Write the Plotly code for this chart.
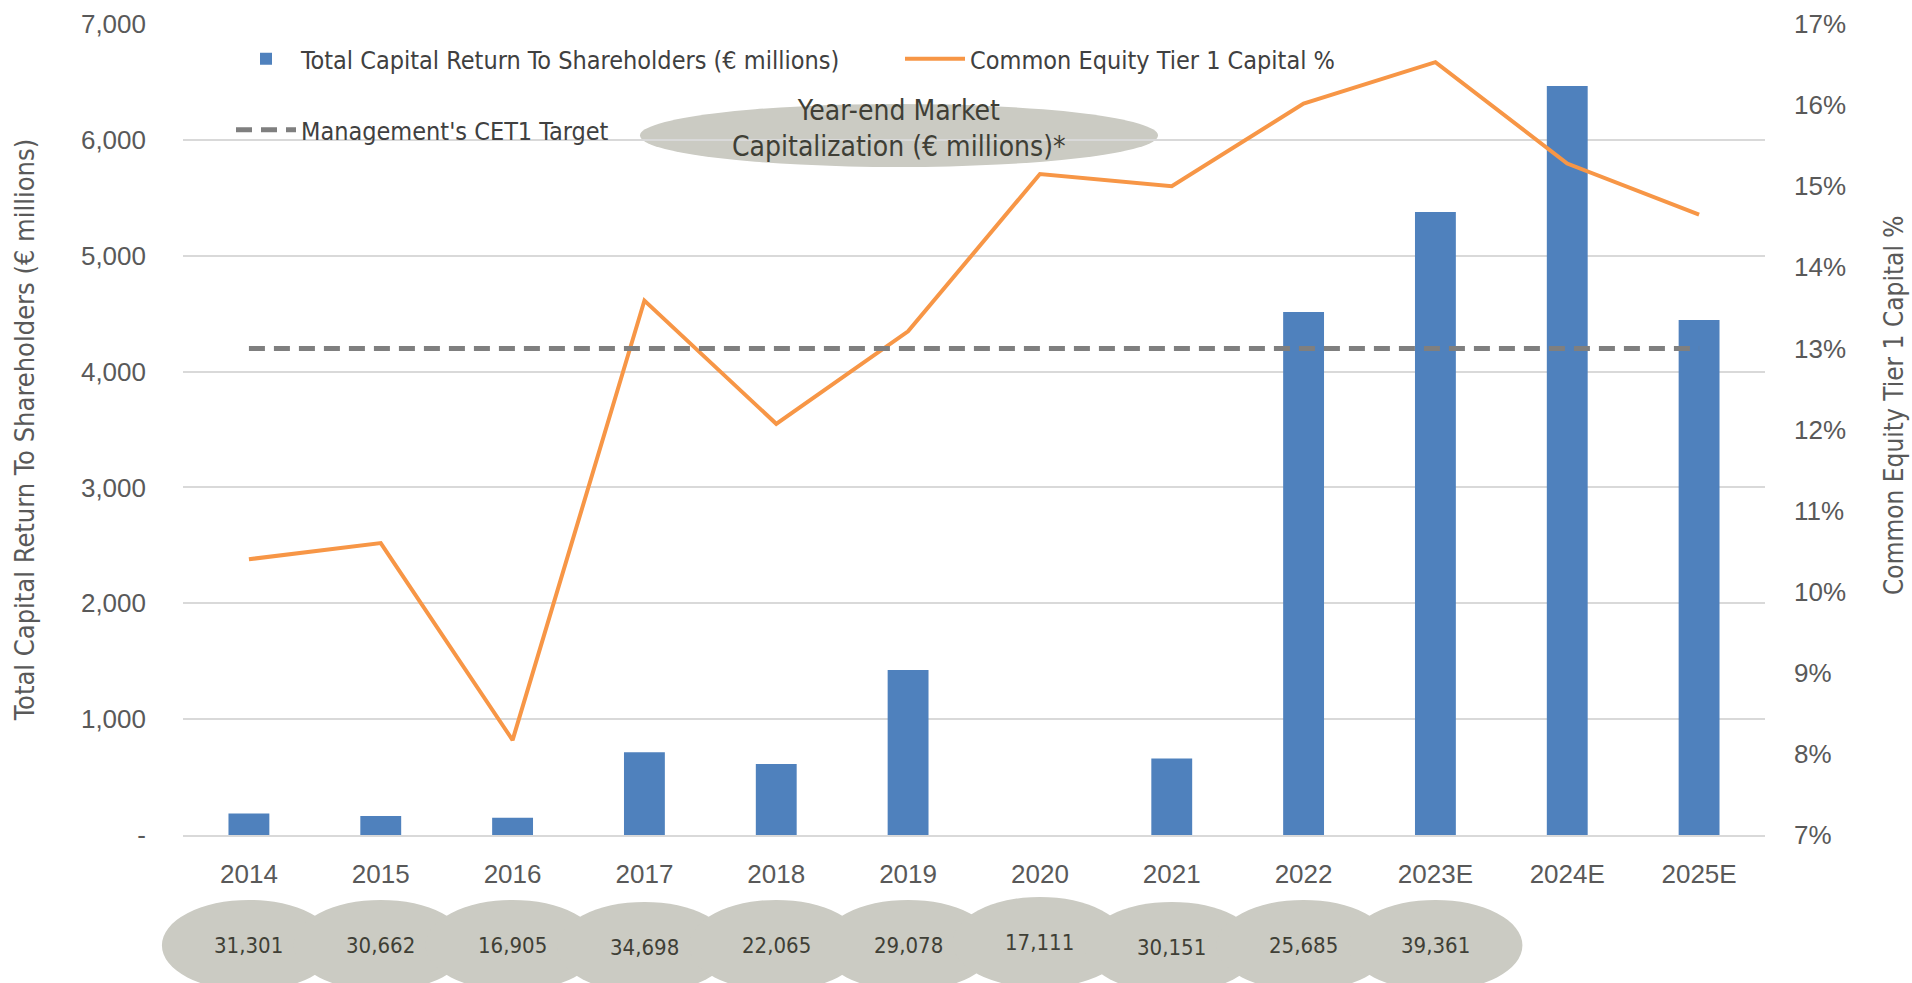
import plotly.graph_objects as go

categories = ["2014", "2015", "2016", "2017", "2018", "2019", "2020", "2021", "2022", "2023E", "2024E", "2025E"]
capital_return = [185, 165, 148, 715, 612, 1425, 0, 660, 4515, 5378, 6465, 4445]
cet1_pct = [10.40, 10.60, 8.17, 13.59, 12.07, 13.21, 15.15, 15.00, 16.02, 16.53, 15.28, 14.65]
cet1_target = [13.0] * 12
market_cap_labels = ["31,301", "30,662", "16,905", "34,698", "22,065", "29,078", "17,111", "30,151", "25,685", "39,361"]
left_ticks = [0, 1000, 2000, 3000, 4000, 5000, 6000, 7000]
left_ticktext = ["-", "1,000", "2,000", "3,000", "4,000", "5,000", "6,000", "7,000"]
right_ticks = [7, 8, 9, 10, 11, 12, 13, 14, 15, 16, 17]
right_ticktext = [f"{v}%" for v in right_ticks]

NARROW = "Liberation Sans Narrow, Arial Narrow, DejaVu Sans Condensed, sans-serif"
TICKFONT = "Liberation Sans, Arial, sans-serif"
GRAY_TXT = "#595959"
ELL_FILL = "#CBCBC3"
ELL_TXT = "#3F3F36"

PL, PR, PT, PB = 183, 1765, 24, 835
PW, PH = PR - PL, PB - PT

fig = go.Figure()
fig.add_trace(go.Bar(
    x=categories, y=capital_return, name="Total Capital Return To Shareholders (€ millions)",
    marker=dict(color="#4F81BD", line=dict(width=0)), width=0.31, yaxis="y", legend="legend"))
fig.add_trace(go.Scatter(
    x=categories, y=cet1_pct, name="Common Equity Tier 1 Capital %", mode="lines",
    line=dict(color="#F79646", width=4), yaxis="y2", legend="legend"))
fig.add_trace(go.Scatter(
    x=categories, y=cet1_target, name="Management's CET1 Target", mode="lines",
    line=dict(color="#7F7F7F", width=5, dash="16px,9px"), yaxis="y2", legend="legend2"))

n = len(categories)
shapes = []
annotations = []
ell_half_w = 0.66
ell_offsets = [0, 0, 0, -2, 0, 0, 3, -2, 0, 0]
for i, lab in enumerate(market_cap_labels):
    cx = (i + 0.5) / n
    hw = ell_half_w / n
    dy = ell_offsets[i] / PH
    shapes.append(dict(type="circle", xref="paper", yref="paper",
                       x0=cx - hw, x1=cx + hw, y0=-0.192 + dy, y1=-0.080 + dy,
                       fillcolor=ELL_FILL, line=dict(width=0), layer="below"))
    annotations.append(dict(x=cx, y=-0.136 + dy, xref="paper", yref="paper",
                            xanchor="center", yanchor="middle",
                            text=lab, showarrow=False,
                            font=dict(family=NARROW, size=22, color=ELL_TXT)))

# Year-end market cap header ellipse
shapes.append(dict(type="circle", xref="paper", yref="paper",
                   x0=(640 - PL) / PW, x1=(1158 - PL) / PW,
                   y0=(PB - 167) / PH, y1=(PB - 104) / PH,
                   fillcolor=ELL_FILL, line=dict(width=0), layer="below"))
annotations.append(dict(x=(899 - PL) / PW, y=(PB - 128) / PH, xref="paper", yref="paper",
                        xanchor="center", yanchor="middle",
                        text="Year-end Market<br>Capitalization (€ millions)*", showarrow=False,
                        font=dict(family=NARROW, size=28, color=ELL_TXT)))

fig.update_layout(
    width=1912, height=983,
    margin=dict(l=PL, r=1912 - PR, t=PT, b=983 - PB, autoexpand=False),
    paper_bgcolor="white", plot_bgcolor="white",
    shapes=shapes, annotations=annotations,
    xaxis=dict(type="category", categoryorder="array", categoryarray=categories,
               range=[-0.5, 11.5], showgrid=False, showline=True, linecolor="#D9D9D9", linewidth=2,
               ticks="", tickfont=dict(family=TICKFONT, size=26, color=GRAY_TXT),
               ticklabelstandoff=15),
    yaxis=dict(range=[0, 7000], tickvals=left_ticks, ticktext=left_ticktext,
               showgrid=True, gridcolor="#D9D9D9", gridwidth=2, zeroline=False, showline=False,
               ticks="", tickfont=dict(family=TICKFONT, size=26, color=GRAY_TXT),
               ticklabelstandoff=36,
               title=dict(text="Total Capital Return To Shareholders (€ millions)",
                          font=dict(family=NARROW, size=27, color=GRAY_TXT), standoff=38)),
    yaxis2=dict(range=[7, 17], tickvals=right_ticks, ticktext=right_ticktext,
                overlaying="y", side="right", showgrid=False, zeroline=False, showline=False,
                ticks="", tickfont=dict(family=TICKFONT, size=26, color=GRAY_TXT),
                ticklabelstandoff=28),
    legend=dict(orientation="h", x=(231 - PL) / PW, y=(PB - 59) / PH, xanchor="left", yanchor="middle",
                font=dict(family=NARROW, size=25, color="#404040"), bgcolor="rgba(0,0,0,0)",
                entrywidth=594, itemwidth=60, traceorder="normal"),
    legend2=dict(orientation="h", x=(231 - PL) / PW, y=(PB - 130) / PH, xanchor="left", yanchor="middle",
                 font=dict(family=NARROW, size=25, color="#404040"), bgcolor="rgba(0,0,0,0)",
                 itemwidth=60),
    showlegend=True,
)

# right axis title placed to match the reference's vertical offset
annotations_right = dict(x=(1894 - PL) / PW, y=(PB - 405) / PH, xref="paper", yref="paper",
                         xanchor="center", yanchor="middle", textangle=-90, showarrow=False,
                         text="Common Equity Tier 1 Capital %",
                         font=dict(family=NARROW, size=26, color=GRAY_TXT))
fig.add_annotation(annotations_right)

fig.write_html("out.html", post_script="document.body.style.margin='0';",
               config={"displayModeBar": False})
